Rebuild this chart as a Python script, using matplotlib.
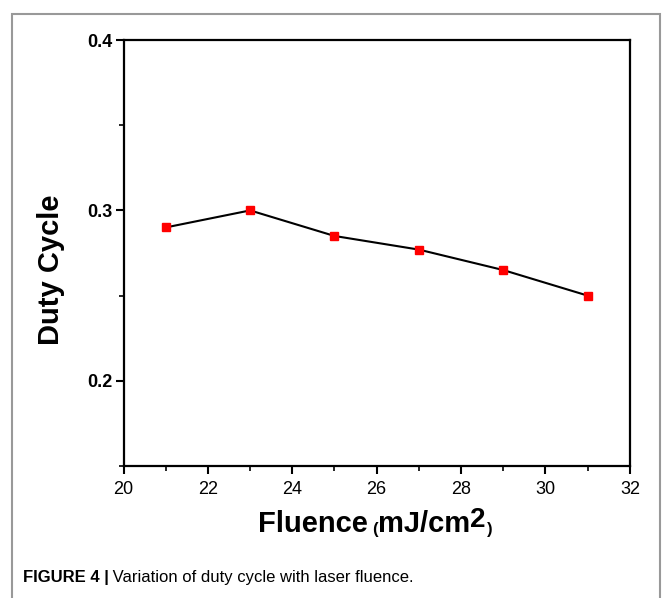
import matplotlib
matplotlib.use("Agg")
import numpy as np
from matplotlib import pyplot as plt
from matplotlib.patches import Rectangle
from matplotlib.ticker import MultipleLocator

fluence = [21, 23, 25, 27, 29, 31]
duty_cycle = [0.290, 0.300, 0.285, 0.277, 0.265, 0.250]

x_ticks = [20, 22, 24, 26, 28, 30, 32]
y_ticks = [0.2, 0.3, 0.4]

plt.rcParams['font.family'] = ['Liberation Sans', 'DejaVu Sans']

fig = plt.figure(figsize=(6.63, 5.98), dpi=100)
ax = fig.add_axes([0.1863, 0.2207, 0.7637, 0.7124])

ax.plot(fluence, duty_cycle, color='black', lw=1.5, marker='s', ms=6,
        mfc='#ff0000', mec='#ff0000', zorder=3)

ax.set_xlim(20, 32)
ax.set_ylim(0.15, 0.4)
ax.set_xticks(x_ticks)
ax.set_yticks(y_ticks)
ax.xaxis.set_minor_locator(MultipleLocator(1))
ax.yaxis.set_minor_locator(MultipleLocator(0.05))
ax.tick_params(which='major', direction='out', length=6, width=1.5, labelsize=13)
ax.tick_params(which='minor', direction='out', length=3.5, width=1.2)
ax.tick_params(axis='x', which='major', pad=5)
ax.tick_params(axis='y', which='major', pad=2)
for lab in ax.get_yticklabels():
    lab.set_fontweight('bold')
for sp in ax.spines.values():
    sp.set_linewidth(1.6)

ax.set_ylabel('Duty Cycle', fontsize=21, fontweight='bold')
ax.yaxis.set_label_coords(-0.115, 0.46)

# x label built from pieces: "Fluence", small brackets, raised "2"
t1 = fig.text(0.389, 0.110, 'Fluence', fontsize=21, fontweight='bold', va='baseline')
t2 = ax.annotate('(', xy=(1, 0), xycoords=t1, xytext=(3, 1), textcoords='offset points',
                 fontsize=12, fontweight='bold', va='bottom', ha='left')
t3 = ax.annotate('mJ/cm', xy=(1, 0), xycoords=(t2, t1), fontsize=21, fontweight='bold',
                 va='bottom', ha='left')
t4 = ax.annotate('2', xy=(1, 0), xycoords=(t3, t1), xytext=(0.5, 4), textcoords='offset points',
                 fontsize=20, fontweight='bold', va='bottom', ha='left')
ax.annotate(')', xy=(1, 0), xycoords=(t4, t2), xytext=(0.5, 0), textcoords='offset points',
            fontsize=12, fontweight='bold', va='bottom', ha='left')

# caption
cap = fig.text(0.034, 0.027, 'FIGURE 4 |', fontsize=12, fontweight='bold',
               family=['Liberation Sans Narrow', 'Liberation Sans'])
ax.annotate(' Variation of duty cycle with laser fluence.', xy=(1, 0), xycoords=cap,
            fontsize=12, family=['Liberation Sans Narrow', 'Liberation Sans'],
            va='bottom', ha='left')

# gray frame around the figure
fig.patches.append(Rectangle((0.018, -0.01), 0.978, 0.987, transform=fig.transFigure,
                             fill=False, edgecolor='#999999', lw=1.5))

fig.savefig('out.png', dpi=100)
